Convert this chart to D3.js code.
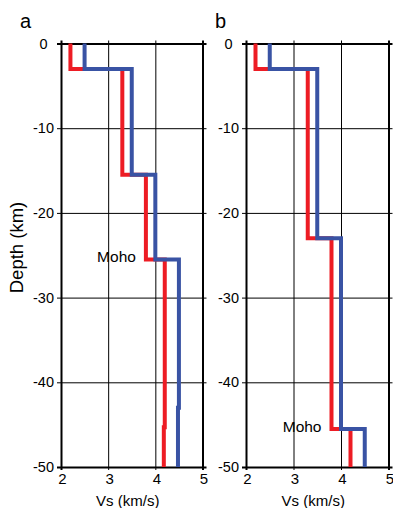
<!DOCTYPE html>
<html>
<head>
<meta charset="utf-8">
<script src="https://cdnjs.cloudflare.com/ajax/libs/d3/7.8.5/d3.min.js"></script>
<style>
body{margin:0;background:#fff;}
text{font-family:"Liberation Sans",Arial,sans-serif;fill:#000;}
</style>
</head>
<body>
<script>
var width=393, height=508;

// depth axis (km, negative down) and Vs axis (km/s)
var depthTicks=[0,-10,-20,-30,-40,-50];
var vsTicks=[2,3,4,5];
var bottomDepth=50;

// panel a: layer tops (km) and Vs per layer
var aRedTop=[0,3,15.5,25.5,45.3];
var aRedVs=[2.2,3.3,3.8,4.2,4.18];
var aBlueTop=[0,3,15.5,25.5,43];
var aBlueVs=[2.5,3.5,4.0,4.5,4.48];
var aMoho=25.5;

// panel b
var bRedTop=[0,3,23,45.5];
var bRedVs=[2.2,3.3,3.8,4.2];
var bBlueTop=[0,3,23,45.5];
var bBlueVs=[2.5,3.5,4.0,4.5];
var bMoho=45.5;

var red="#ed1c24", blue="#3953a4";
var plain=function(d){return String(d);};

var svg=d3.select("body").append("svg")
    .attr("width",width)
    .attr("height",height);

var y=d3.scaleLinear().domain([0,-50]).range([43.5,467]);

// turn layer tops into step points
var profile=function(tops,vs){
    var pts=[];
    tops.forEach(function(t,i){
        var bot=i<tops.length-1 ? tops[i+1] : bottomDepth;
        pts.push([vs[i],-t]);
        pts.push([vs[i],-bot]);
    });
    return pts;
}

var drawPanel=function(x0,x1,letter,letterX,red_,blue_,moho){
    var x=d3.scaleLinear().domain([2,5]).range([x0,x1]);
    var g=svg.append("g");
    var w=x1-x0;

    // horizontal grid + outside ticks
    g.append("g")
        .attr("transform","translate("+(x0-4)+",0)")
        .call(d3.axisRight(y).tickValues(depthTicks).tickSize(w+8).tickFormat(""))
        .call(function(s){s.select(".domain").remove();})
        .selectAll("line")
        .attr("stroke","#000")
        .attr("stroke-width",function(d){return (d==0||d==-50)?2:1;});

    // vertical grid + outside ticks
    g.append("g")
        .attr("transform","translate(0,"+(y(0)-3)+")")
        .call(d3.axisBottom(x).tickValues(vsTicks).tickSize(y(-50)-y(0)+6).tickFormat(""))
        .call(function(s){s.select(".domain").remove();})
        .selectAll("line")
        .attr("stroke","#000")
        .attr("stroke-width",function(d){return (d==2||d==5)?2:1;});

    // depth labels
    g.append("g")
        .attr("transform","translate("+(x0-17.5)+",0)")
        .call(d3.axisLeft(y).tickValues(depthTicks).tickSize(0).tickPadding(0).tickFormat(plain))
        .call(function(s){s.select(".domain").remove();})
        .selectAll("text")
        .attr("text-anchor","middle")
        .style("font-size","14.5px")
        .style("font-family","Liberation Sans, Arial, sans-serif");

    // Vs labels
    g.append("g")
        .attr("transform","translate(1,"+(y(-50)+6)+")")
        .call(d3.axisBottom(x).tickValues(vsTicks).tickSize(0).tickPadding(0).tickFormat(plain))
        .call(function(s){s.select(".domain").remove();})
        .selectAll("text")
        .style("font-size","15px")
        .style("font-family","Liberation Sans, Arial, sans-serif");

    var line=d3.line()
        .x(function(d){return x(d[0]);})
        .y(function(d){return y(d[1]);});

    g.append("path")
        .attr("d",line(profile(red_[0],red_[1])))
        .attr("fill","none")
        .attr("stroke",red)
        .attr("stroke-width",4);
    g.append("path")
        .attr("d",line(profile(blue_[0],blue_[1])))
        .attr("fill","none")
        .attr("stroke",blue)
        .attr("stroke-width",4);

    g.append("text")
        .attr("x",x(3.8)-10)
        .attr("y",y(-moho)+3)
        .attr("text-anchor","end")
        .style("font-size","15.5px")
        .text("Moho");

    g.append("text")
        .attr("x",(x0+x1)/2-4)
        .attr("y",506)
        .attr("text-anchor","middle")
        .style("font-size","15px")
        .text("Vs (km/s)");

    g.append("text")
        .attr("x",letterX)
        .attr("y",28)
        .style("font-size","20px")
        .text(letter);
}

drawPanel(61,202.5,"a",20,[aRedTop,aRedVs],[aBlueTop,aBlueVs],aMoho);
drawPanel(246,388.5,"b",215,[bRedTop,bRedVs],[bBlueTop,bBlueVs],bMoho);

svg.append("text")
    .attr("transform","translate(23,247.5) rotate(-90)")
    .attr("text-anchor","middle")
    .style("font-size","18.5px")
    .text("Depth (km)");
</script>
</body>
</html>
